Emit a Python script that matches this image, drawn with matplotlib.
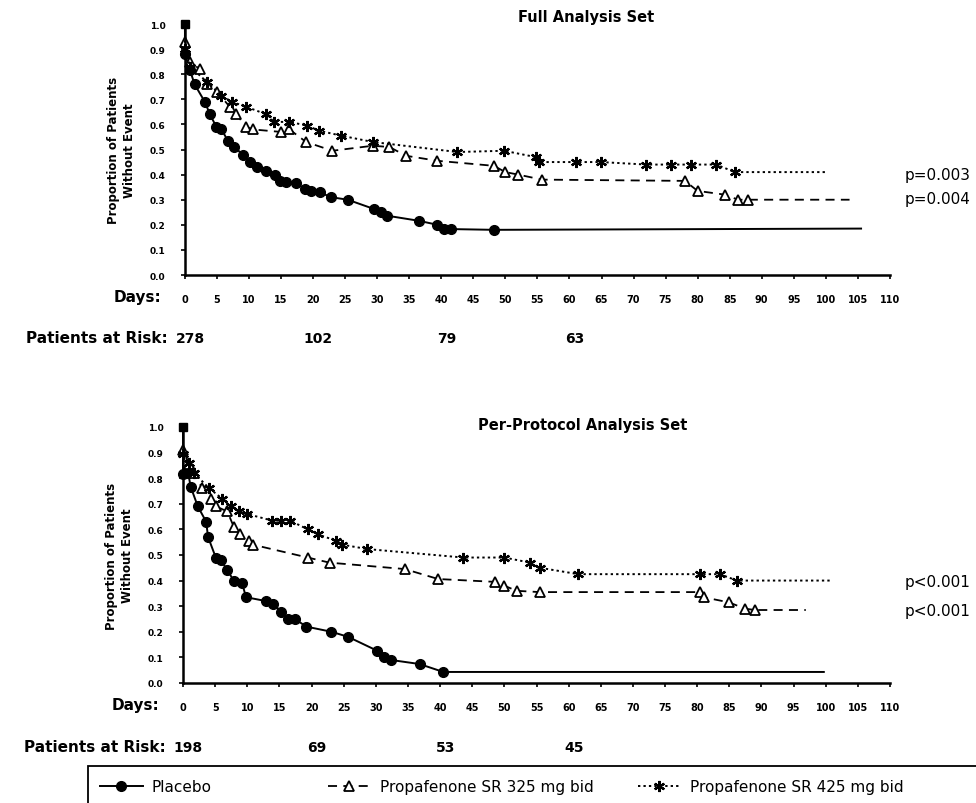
#!/usr/bin/env python3
#
#   plot.py  -  Kaplan-Meier style survival curves, two analysis sets.
#

import matplotlib
matplotlib.use('Agg')
import matplotlib.pyplot as plt
from matplotlib.patches import Rectangle
from matplotlib.transforms import blended_transform_factory

plt.rcParams['font.family'] = ['DejaVu Sans']

# ---- Full Analysis Set ----
full_pla_days = [0, 0, 0.8, 1.5, 3.1, 3.9, 4.9, 5.7, 6.7, 7.7, 9.0, 10.1, 11.3, 12.7, 14.0, 14.8,
                 15.8, 17.4, 18.7, 19.7, 21.0, 22.8, 25.4, 29.5, 30.6, 31.6, 36.5, 39.4, 40.4,
                 41.5, 48.2, 105.5]
full_pla_vals = [1.0, 0.88, 0.815, 0.76, 0.69, 0.64, 0.59, 0.58, 0.535, 0.51, 0.48, 0.45, 0.43,
                 0.415, 0.40, 0.375, 0.37, 0.365, 0.343, 0.335, 0.33, 0.31, 0.30, 0.263, 0.25,
                 0.236, 0.216, 0.20, 0.185, 0.183, 0.18, 0.185]
full_325_days = [0, 0, 0.8, 2.3, 3.5, 5.0, 7.0, 8.0, 9.6, 10.6, 15.0, 16.3, 18.9, 23.0, 29.3,
                 31.9, 34.5, 39.4, 48.2, 50.0, 52.0, 55.7, 78.0, 80.0, 84.3, 86.3, 87.8, 103.7]
full_325_vals = [1.0, 0.93, 0.85, 0.82, 0.76, 0.73, 0.67, 0.64, 0.59, 0.58, 0.57, 0.58, 0.53,
                 0.495, 0.515, 0.51, 0.475, 0.455, 0.435, 0.41, 0.40, 0.38, 0.375, 0.335, 0.32,
                 0.30, 0.30, 0.30]
full_425_days = [0, 0, 0.8, 3.4, 5.7, 7.3, 9.6, 12.7, 13.9, 16.3, 19.1, 20.9, 24.4, 29.3, 42.5,
                 49.8, 54.7, 55.2, 61.0, 64.9, 72.0, 75.9, 79.0, 82.9, 85.8, 100.0]
full_425_vals = [1.0, 0.90, 0.83, 0.77, 0.715, 0.69, 0.67, 0.64, 0.61, 0.61, 0.595, 0.575, 0.555,
                 0.53, 0.49, 0.495, 0.47, 0.45, 0.45, 0.45, 0.44, 0.44, 0.44, 0.44, 0.41, 0.41]
full_pvals = ['p=0.003', 'p=0.004']
full_risk = ['278', '102', '79', '63']

# ---- Per-Protocol Analysis Set ----
pp_pla_days = [0, 0, 0.8, 1.2, 2.3, 3.6, 3.9, 5.1, 5.9, 6.9, 7.9, 9.2, 9.8, 12.9, 14.0, 15.3,
               16.3, 17.4, 19.2, 23.1, 25.7, 30.2, 31.2, 32.3, 36.8, 40.5, 99.7]
pp_pla_vals = [1.0, 0.816, 0.82, 0.766, 0.69, 0.63, 0.57, 0.49, 0.48, 0.44, 0.40, 0.39, 0.335,
               0.32, 0.31, 0.277, 0.25, 0.25, 0.22, 0.20, 0.18, 0.126, 0.10, 0.09, 0.074,
               0.043, 0.043]
pp_325_days = [0, 0, 0.9, 1.7, 3.0, 4.4, 5.1, 6.9, 7.9, 8.9, 10.3, 10.9, 19.4, 22.8, 34.5, 39.7,
               48.5, 50.0, 51.9, 55.5, 80.5, 81.0, 84.9, 87.5, 89.0, 96.9]
pp_325_vals = [1.0, 0.91, 0.855, 0.82, 0.76, 0.72, 0.69, 0.67, 0.61, 0.58, 0.556, 0.54, 0.49,
               0.47, 0.445, 0.406, 0.395, 0.38, 0.36, 0.355, 0.355, 0.335, 0.315, 0.29, 0.285,
               0.285]
pp_425_days = [0, 0, 1.0, 1.7, 4.1, 6.1, 7.4, 8.7, 10.0, 13.9, 15.2, 16.7, 19.4, 21.0, 23.8, 24.8,
               28.7, 43.6, 50.0, 54.0, 55.5, 61.5, 80.5, 83.5, 86.2, 100.7]
pp_425_vals = [1.0, 0.895, 0.86, 0.82, 0.76, 0.72, 0.69, 0.67, 0.66, 0.634, 0.634, 0.634, 0.60,
               0.58, 0.556, 0.54, 0.523, 0.49, 0.49, 0.47, 0.45, 0.425, 0.425, 0.425, 0.40, 0.40]
pp_pvals = ['p<0.001', 'p<0.001']
pp_risk = ['198', '69', '53', '45']

risk_days = [0, 20, 40, 60]
day_ticks = list(range(0, 111, 5))
y_ticks = [i / 10 for i in range(11)]
labels = ['Placebo', 'Propafenone SR 325 mg bid', 'Propafenone SR 425 mg bid']

ASTERISK = (6, 2, 0)


def Panel(ax, pla, p325, p425, title, title_x, title_y, pvals, pval_y, risk):
    kw = dict(color='black', clip_on=False, markevery=slice(1, -1))
    h1, = ax.plot(pla[0], pla[1], '-', lw=1.4, marker='o', ms=7, mfc='black', **kw)
    h2, = ax.plot(p325[0], p325[1], lw=1.3, dashes=(5, 3.5), marker='^', ms=7,
                  mfc='white', mew=1.3, **kw)
    h3, = ax.plot(p425[0], p425[1], lw=1.4, dashes=(1.2, 1.6), marker=ASTERISK, ms=8,
                  mew=1.6, **kw)
    # start square at 1.0
    ax.plot([pla[0][0]], [pla[1][0]], 's', color='black', ms=6, clip_on=False)

    ax.set_xlim(0, 110)
    ax.set_ylim(0, 1.0)
    ax.set_xticks(day_ticks)
    ax.set_xticklabels([str(d) for d in day_ticks], fontsize=7, fontweight='bold')
    ax.set_yticks(y_ticks)
    ax.set_yticklabels(['%.1f' % v for v in y_ticks], fontsize=6.5, fontweight='bold')
    ax.tick_params(axis='x', length=3, pad=11, width=1.2)
    ax.tick_params(axis='y', length=3, pad=11, width=1.2)
    ax.spines['top'].set_visible(False)
    ax.spines['right'].set_visible(False)
    ax.spines['left'].set_linewidth(1.8)
    ax.spines['bottom'].set_linewidth(1.8)

    fig = ax.figure
    fig.text(title_x, title_y, title, ha='center', va='center', fontsize=10.5, fontweight='bold')

    for txt, yv in zip(pvals, pval_y):
        ax.text(1.021, yv, txt, transform=blended_transform_factory(ax.transAxes, ax.transData),
                ha='left', va='center', fontsize=11)

    ax.text(-0.033, -0.085, 'Days:', transform=ax.transAxes, ha='right', va='center',
            fontsize=11, fontweight='bold')
    ax.text(-0.024, -0.25, 'Patients at Risk:', transform=ax.transAxes, ha='right',
            va='center', fontsize=11, fontweight='bold')
    tr = blended_transform_factory(ax.transData, ax.transAxes)
    for d, n in zip(risk_days, risk):
        ax.text(d + 0.8, -0.25, n, transform=tr, ha='center', va='center',
                fontsize=10, fontweight='bold')

    ax.set_ylabel('Proportion of Patients\nWithout Event', fontsize=8.5, fontweight='bold',
                  labelpad=10, linespacing=1.3)
    return h1, h2, h3


fig = plt.figure(figsize=(9.76, 8.04), dpi=100)
ax1 = fig.add_axes([0.1895, 0.6567, 0.7223, 0.3122])
ax2 = fig.add_axes([0.1875, 0.1493, 0.7244, 0.3184])

Panel(ax1, (full_pla_days, full_pla_vals), (full_325_days, full_325_vals),
      (full_425_days, full_425_vals), 'Full Analysis Set', 0.601, 0.978,
      full_pvals, [0.40, 0.305], full_risk)
handles = Panel(ax2, (pp_pla_days, pp_pla_vals), (pp_325_days, pp_325_vals),
                (pp_425_days, pp_425_vals), 'Per-Protocol Analysis Set', 0.597, 0.471,
                pp_pvals, [0.395, 0.285], pp_risk)

# legend box (runs off the right edge, as in the scan)
fig.patches.append(Rectangle((88 / 976, -0.01), 1.0, 0.056, transform=fig.transFigure,
                             fill=False, edgecolor='black', lw=1.3))
for h, lab, x0 in zip(handles, labels, [100 / 976, 328 / 976, 638 / 976]):
    leg = fig.legend([h], [lab], loc='center left', bbox_to_anchor=(x0, 1 - 788 / 804),
                     frameon=False, fontsize=11, handlelength=2.8, handletextpad=0.6,
                     borderpad=0, borderaxespad=0, numpoints=1)
    for lh in leg.legend_handles:
        lh.set_markevery([1])

fig.savefig('out.png', dpi=100)
